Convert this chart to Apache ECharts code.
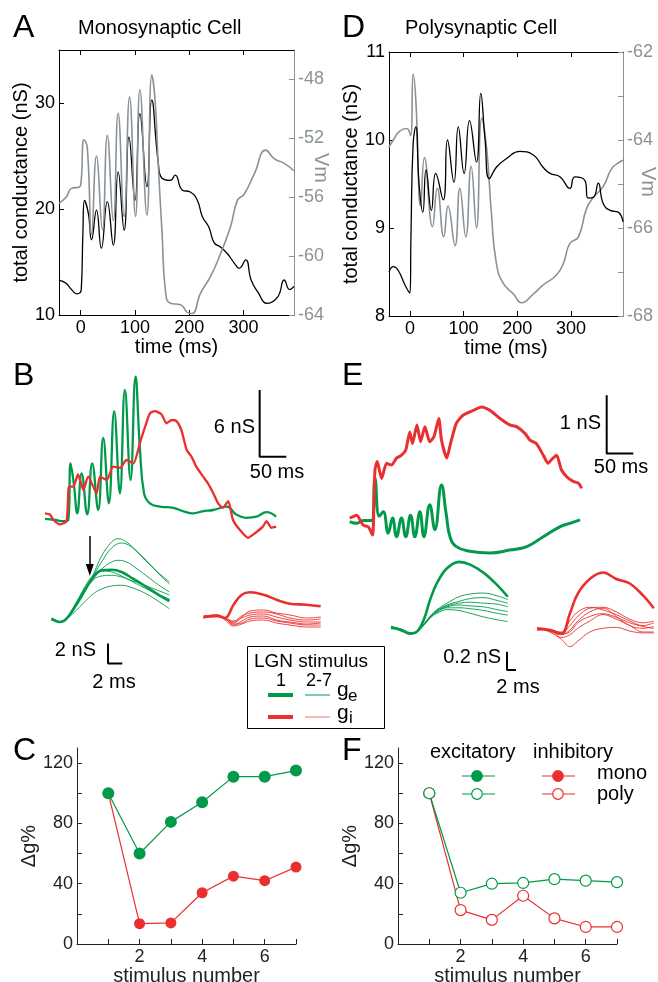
<!DOCTYPE html>
<html>
<head>
<meta charset="utf-8">
<script src="https://cdn.jsdelivr.net/npm/echarts@6/dist/echarts.min.js"></script>
<style>
  html, body { margin: 0; padding: 0; background: #fff; }
  #chart { width: 658px; height: 982px; }
</style>
</head>
<body>
<div id="chart"></div>
<script>
// ---- data ----
// A: monosynaptic cell, [time ms, value]
var aConductance = [[-40,13.3],[-27,13.0],[-17,12.4],[-7,12.0],[1,12.4],[4,17.7],[7,20.8],[14,19.6],[20,17.1],[29,19.9],[38,16.3],[49,20.7],[60,16.6],[69,23.5],[80,18.0],[89,26.8],[100,20.8],[109,29.0],[122,22.1],[131,30.3],[143,24.3],[150,22.9],[165,22.7],[174,23.2],[187,21.8],[202,21.6],[215,20.8],[224,19.3],[236,18.3],[246,16.8],[258,16.4],[270,15.8],[283,14.9],[292,14.4],[304,15.2],[314,13.3],[326,12.2],[344,11.1],[363,11.7],[375,13.3],[385,12.4],[393,12.7]];
var aVm = [[-40,-56.4],[-27,-56.0],[-17,-55.4],[-2,-55.3],[1,-54.8],[6,-52.1],[12,-52.6],[20,-58.5],[29,-53.2],[40,-58.2],[49,-51.8],[60,-57.6],[69,-50.3],[80,-57.3],[90,-49.2],[101,-57.3],[109,-48.7],[122,-57.2],[131,-47.7],[137,-49.4],[143,-53.9],[150,-58.5],[156,-62.3],[165,-63.2],[184,-63.3],[196,-63.8],[205,-63.9],[221,-62.5],[239,-61.4],[258,-59.8],[276,-58.0],[289,-56.2],[301,-55.8],[320,-54.4],[341,-52.8],[357,-53.4],[375,-53.7],[393,-54.2]];

// D: polysynaptic cell
var dConductance = [[-39,8.50],[-31,8.56],[-22,8.52],[-9,8.35],[0,8.26],[2,8.94],[6,9.96],[11,10.15],[17,9.5],[24,9.18],[30,9.66],[40,9.2],[48,9.62],[62,9.32],[70,10.0],[82,9.52],[90,10.15],[101,9.62],[111,10.22],[124,9.75],[132,10.53],[140,10.0],[148,9.56],[161,9.69],[180,9.79],[205,9.87],[230,9.83],[248,9.69],[261,9.62],[280,9.58],[298,9.45],[307,9.58],[326,9.54],[332,9.34],[342,9.35],[351,9.51],[360,9.28],[373,9.2],[388,9.18],[397,9.07]];
var dVm = [[-39,-64.16],[-31,-64.0],[-19,-63.8],[-6,-63.74],[1,-63.9],[6,-62.5],[11,-63.1],[20,-65.5],[27,-64.4],[42,-65.97],[51,-65.1],[63,-66.2],[71,-65.5],[84,-66.4],[93,-65.1],[104,-66.2],[114,-64.6],[124,-66.0],[134,-63.5],[143,-64.2],[152,-65.7],[161,-66.8],[174,-67.26],[193,-67.5],[208,-67.7],[230,-67.5],[248,-67.3],[273,-67.07],[286,-66.8],[298,-66.35],[314,-66.2],[329,-65.56],[342,-65.3],[360,-65.06],[376,-64.65],[391,-64.5],[397,-64.46]];

// B: monosynaptic ge / gi (nS above baseline)
var bGe = [[-43,-0.1],[-24,-0.2],[-9,-0.3],[0.6,-0.2],[5,4.9],[11,3.1],[17.6,0.4],[25.7,4.0],[36.3,0.3],[45.6,4.9],[56.9,0.7],[66.3,7.2],[76.9,1.3],[86.9,9.6],[97.6,2.2],[107,11.5],[117.6,3.4],[127,12.7],[135,6.4],[143,2.2],[154,1.3],[173,1.0],[198,0.9],[216,0.6],[235,0.4],[254,0.6],[273,0.7],[298,1.0],[316,0.3],[335,0.0],[354,0.1],[373,0.5],[391,0.1]];
var bGi = [[-43,0.4],[-34,0.3],[-27,-0.2],[-15,-0.6],[-2.5,-0.3],[2,2.8],[10,2.8],[19,3.9],[29,2.5],[38,3.7],[54,2.2],[60,3.7],[73,3.4],[85,4.6],[98,4.5],[110,5.2],[123,4.9],[135,6.7],[145,8.2],[154,9.4],[163,9.6],[176,9.3],[185,8.5],[195,8.8],[204,8.7],[213,7.9],[223,6.1],[232,5.5],[241,4.6],[254,3.7],[263,3.1],[273,2.2],[282,1.3],[291,0.9],[301,1.5],[310,-0.2],[323,-1.1],[338,-1.8],[351,-1.4],[366,-0.8],[373,-0.3],[382,-0.9],[391,-0.8]];

// E: polysynaptic ge / gi
var eGe = [[-44,0],[-31,-0.03],[-19,0.02],[-3,0.02],[3.2,0.74],[11.3,0.09],[18.8,0.17],[28.1,-0.2],[36.2,0.06],[43.7,-0.26],[53,0.06],[61,-0.26],[70,0.11],[78,-0.26],[87.5,0.17],[95,-0.26],[106,0.29],[115.6,-0.14],[128,0.63],[137,0.12],[144,-0.26],[156,-0.43],[181,-0.51],[219,-0.54],[256,-0.49],[288,-0.43],[319,-0.26],[350,-0.09],[369,-0.03],[388,0.03]];
var eGi = [[-44,0.06],[-31,0.11],[-19,-0.06],[-9.4,-0.09],[-1.3,-0.23],[3.2,0.89],[7.5,1.03],[15.6,0.74],[25,1.0],[34,0.97],[43.7,1.09],[53,1.14],[61,1.23],[68.6,1.54],[73.6,1.34],[82,1.66],[88.8,1.37],[96.9,1.63],[106,1.37],[114,1.46],[123,1.77],[128,1.4],[138,1.09],[145,1.34],[156,1.69],[169,1.83],[188,1.91],[203,1.97],[219,1.91],[238,1.77],[256,1.66],[269,1.63],[285,1.51],[294,1.4],[306,1.34],[319,1.14],[328,1.0],[334,1.06],[344,1.14],[353,0.89],[363,0.77],[375,0.69],[385,0.66],[391,0.57]];

// B insets (ms from window start, nS): stimulus 1 and stimuli 2-7
var bInsetGe1 = [[0,0.33],[1.16,0],[2.1,0.33],[3.5,1.83],[4.9,3.5],[6.05,4.67],[7,5.17],[8.4,5.23],[9.8,5.0],[11.4,4.33],[13.3,3.5],[15.1,2.67],[16.5,2.1]];
var bInsetGeRest = [
  [[0,0.2],[1.2,0],[2.1,0.3],[3.5,1.6],[4.9,3.3],[6,5.0],[7,6.6],[8.4,8.0],[9.3,8.33],[10.5,8.0],[12,7.0],[13.5,5.9],[15,4.9],[16.5,4.0]],
  [[0,0.2],[1.2,0],[2.1,0.3],[3.5,1.7],[4.9,3.4],[6,4.8],[7,6.0],[8.4,7.4],[9.8,7.9],[11,7.6],[12.5,6.7],[14,5.6],[15.3,4.6],[16.5,3.8]],
  [[0,0.3],[1.2,0],[2.1,0.3],[3.5,1.8],[4.9,3.4],[6,4.5],[7,5.3],[8.4,6.0],[9.3,6.17],[10.5,6.0],[12,5.3],[13.5,4.5],[15,3.7],[16.5,3.0]],
  [[0,0.3],[1.2,0],[2.1,0.4],[3.5,2.0],[4.9,3.8],[6,4.8],[7,5.1],[8.4,5.0],[9.8,4.6],[11.4,4.0],[13.3,3.3],[15.1,2.7],[16.5,2.3]],
  [[0,0.3],[1.2,0],[2.1,0.4],[3.5,1.9],[4.9,3.4],[6,4.3],[7,4.6],[8.4,4.67],[9.8,4.5],[11.4,4.1],[13.3,3.6],[15.1,3.1],[16.5,2.7]],
  [[0,0.3],[1.2,0],[2.1,0.3],[3.5,1.2],[4.9,2.2],[6,2.9],[7,3.3],[8.4,3.6],[9.8,3.67],[11.4,3.4],[13.3,2.8],[15.1,2.0],[16.5,1.33]]
];
var bInsetGi1 = [[0,0.1],[1.86,0.23],[3.0,0],[4.2,1.33],[5.35,2.33],[6.5,2.57],[8.4,2.33],[10.2,1.83],[12.1,1.43],[14.4,1.33],[16.4,1.17]];
var bInsetGiRest = [
  [[0,0.1],[1.86,0.3],[3,0],[4.2,-0.5],[5.35,0.1],[6.5,0.7],[8.4,0.8],[10.2,0.5],[12.1,0.3],[14.4,0.0],[16.4,0.1]],
  [[0,0.2],[1.86,0.2],[3,0],[4.2,-0.3],[5.35,0.2],[6.5,0.5],[8.4,0.6],[10.2,0.4],[12.1,0.0],[14.4,-0.2],[16.4,-0.1]],
  [[0,0],[1.86,0.2],[3,0],[4.2,-0.7],[5.35,-0.3],[6.5,0.1],[8.4,0.2],[10.2,-0.2],[12.1,-0.4],[14.4,-0.6],[16.4,-0.5]],
  [[0,0.1],[1.86,0.3],[3,-0.2],[4.2,-0.8],[5.35,-0.6],[6.5,-0.3],[8.4,-0.2],[10.2,-0.5],[12.1,-0.7],[14.4,-0.9],[16.4,-0.9]],
  [[0,0.2],[1.86,0.3],[3,0],[4.2,-0.4],[5.35,0.0],[6.5,0.3],[8.4,0.4],[10.2,0.1],[12.1,-0.2],[14.4,-0.4],[16.4,-0.4]],
  [[0,0],[1.86,0.1],[3,-0.1],[4.2,-0.6],[5.35,-0.5],[6.5,-0.1],[8.4,0.0],[10.2,-0.3],[12.1,-0.5],[14.4,-0.7],[16.4,-0.7]]
];

// E insets
var eInsetGe1 = [[0,0.05],[1.17,0.02],[2.4,-0.02],[3.25,0],[4.1,0.13],[4.9,0.35],[5.75,0.53],[7,0.69],[8.5,0.76],[9.9,0.73],[11.6,0.64],[13.25,0.51],[14.6,0.38]];
var eInsetGeRest = [
  [[0,0.05],[1.17,0.03],[2.4,-0.02],[3.25,0],[4.1,0.08],[4.9,0.17],[5.75,0.24],[7,0.31],[8.5,0.38],[9.9,0.41],[11.6,0.42],[13.25,0.39],[14.6,0.35]],
  [[0,0.04],[1.17,0.03],[2.4,-0.02],[3.25,0],[4.1,0.08],[4.9,0.16],[5.75,0.23],[7,0.29],[8.5,0.33],[9.9,0.36],[11.6,0.37],[13.25,0.34],[14.6,0.31]],
  [[0,0.06],[1.17,0.02],[2.4,-0.02],[3.25,0],[4.1,0.08],[4.9,0.16],[5.75,0.23],[7,0.28],[8.5,0.31],[9.9,0.32],[11.6,0.31],[13.25,0.3],[14.6,0.27]],
  [[0,0.03],[1.17,0.03],[2.4,-0.01],[3.25,0],[4.1,0.08],[4.9,0.16],[5.75,0.22],[7,0.27],[8.5,0.29],[9.9,0.28],[11.6,0.27],[13.25,0.24],[14.6,0.22]],
  [[0,0.05],[1.17,0.01],[2.4,-0.02],[3.25,0],[4.1,0.07],[4.9,0.15],[5.75,0.21],[7,0.26],[8.5,0.26],[9.9,0.25],[11.6,0.23],[13.25,0.2],[14.6,0.18]],
  [[0,0.04],[1.17,0.02],[2.4,-0.03],[3.25,0],[4.1,0.07],[4.9,0.15],[5.75,0.2],[7,0.24],[8.5,0.23],[9.9,0.2],[11.6,0.16],[13.25,0.13],[14.6,0.11]]
];
var eInsetGi1 = [[0,0.02],[1.58,0],[3.04,-0.04],[4.1,0.18],[5.1,0.4],[6.6,0.56],[8.25,0.63],[9.9,0.56],[11.6,0.51],[13.25,0.38],[14.6,0.24]];
var eInsetGiRest = [
  [[0,0.02],[1.58,0.0],[3.04,-0.02],[4.1,0.1],[5.1,0.2],[6.6,0.25],[8.25,0.22],[9.9,0.17],[11.6,0.1],[13.25,0.05],[14.6,0.08]],
  [[0,0.0],[1.58,0.01],[3.04,-0.03],[4.1,0.05],[5.1,0.15],[6.6,0.24],[8.25,0.25],[9.9,0.2],[11.6,0.12],[13.25,0.08],[14.6,0.1]],
  [[0,0.02],[1.58,-0.01],[3.04,-0.05],[4.1,0.0],[5.1,0.1],[6.6,0.2],[8.25,0.24],[9.9,0.15],[11.6,0.05],[13.25,0.02],[14.6,0.04]],
  [[0,0.0],[1.58,0.0],[3.04,-0.08],[4.1,-0.05],[5.1,0.02],[6.6,0.1],[8.25,0.17],[9.9,0.12],[11.6,0.05],[13.25,-0.02],[14.6,-0.02]],
  [[0,0.02],[1.58,-0.02],[3.04,-0.1],[4.1,-0.18],[5.1,-0.12],[6.6,-0.02],[8.25,0.02],[9.9,0.03],[11.6,-0.01],[13.25,-0.03],[14.6,-0.03]],
  [[0,0.01],[1.58,0.0],[3.04,-0.04],[4.1,-0.02],[5.1,0.08],[6.6,0.15],[8.25,0.18],[9.9,0.14],[11.6,0.08],[13.25,0.04],[14.6,0.02]]
];

// C / F: relative conductance change per stimulus
var stimNumber = [1, 2, 3, 4, 5, 6, 7];
var monoExc = [100, 60, 81, 94, 111, 111, 115];
var monoInh = [100, 13.5, 14, 34, 45, 42, 51];
var polyExc = [100, 34, 40, 40.5, 43, 42, 41];
var polyInh = [100, 22.5, 16, 32, 17, 11.3, 11.3];

// tick labels
var aTimeTicks = [0, 100, 200, 300];
var aGTicks = [10, 20, 30];
var aVmTicks = [-64, -60, -56, -52, -48];
var dGTicks = [8, 9, 10, 11];
var dVmTicks = [-68, -67, -66, -65, -64, -63, -62];
var dVmLabels = [-68, -66, -64, -62];
var stimTicks = [1, 2, 3, 4, 5, 6, 7];
var stimLabels = [2, 4, 6];
var pctTicks = [0, 20, 40, 60, 80, 100, 120];
var pctLabels = [0, 40, 80, 120];

// ---- chart ----
var GREEN = "#009a4a";
var RED = "#ea2f2f";
var GREY = "#8b9297";
var FONT = "Liberation Sans, Arial, sans-serif";

var chart = echarts.init(document.getElementById("chart"), null, { renderer: "canvas" });

function pairs(xs, ys) {
  return xs.map(function (x, i) { return [x, ys[i]]; });
}

//坐标轴 (visible)
function valAxis(gi, pos, min, max, ticks, labels, color, extra) {
  var ax = {
    gridIndex: gi, type: "value", position: pos, min: min, max: max,
    axisLine: { show: true, onZero: false, lineStyle: { color: color, width: 1 } },
    axisTick: { show: true, inside: true, length: 5, customValues: ticks, lineStyle: { color: color } },
    axisLabel: labels ? { show: true, customValues: labels, color: color, fontSize: 18, fontFamily: FONT, margin: 4 } : { show: false },
    splitLine: { show: false },
    nameTextStyle: { color: color, fontSize: 20, fontFamily: FONT }
  };
  for (var k in extra) ax[k] = extra[k];
  return ax;
}
function hiddenAxis(gi, min, max) {
  return { gridIndex: gi, type: "value", min: min, max: max, show: false, splitLine: { show: false } };
}

var grids = [
  { left: 59, top: 50, width: 235, height: 265 },     // 0 A
  { left: 389, top: 52, width: 234, height: 264 },    // 1 D
  { left: 45, top: 370, width: 245, height: 170 },    // 2 B
  { left: 345, top: 390, width: 295, height: 170 },   // 3 E
  { left: 48, top: 532, width: 125, height: 135 },    // 4 B inset ge
  { left: 200, top: 583, width: 125, height: 50 },    // 5 B inset gi
  { left: 387, top: 549, width: 128, height: 124 },   // 6 E inset ge
  { left: 533, top: 557, width: 124, height: 96 },    // 7 E inset gi
  { left: 77, top: 748, width: 219, height: 196 },    // 8 C
  { left: 398, top: 748, width: 219, height: 196 }    // 9 F
];
grids.forEach(function (g) { g.outerBoundsMode = "none"; g.containLabel = false; });

var xAxes = [
  valAxis(0, "bottom", -40, 393, aTimeTicks, aTimeTicks, "#000", { name: "time (ms)", nameLocation: "middle", nameGap: 21 }),
  valAxis(0, "top", -40, 393, aTimeTicks, null, "#000", {}),
  valAxis(1, "bottom", -39, 397, aTimeTicks, aTimeTicks, "#000", { name: "time (ms)", nameLocation: "middle", nameGap: 21 }),
  valAxis(1, "top", -39, 397, aTimeTicks, null, "#000", {}),
  hiddenAxis(2, -43, 417),
  hiddenAxis(3, -53, 500.5),
  hiddenAxis(4, -0.5, 17),
  hiddenAxis(5, -0.5, 17),
  hiddenAxis(6, -0.5, 15.5),
  hiddenAxis(7, -0.5, 15),
  valAxis(8, "bottom", 0, 7, stimTicks, stimLabels, "#222", { name: "stimulus number", nameLocation: "middle", nameGap: 17 }),
  valAxis(9, "bottom", 0, 7, stimTicks, stimLabels, "#222", { name: "stimulus number", nameLocation: "middle", nameGap: 17 })
];
var yAxes = [
  valAxis(0, "left", 10, 35, aGTicks, aGTicks, "#000", { name: "total conductance (nS)", nameLocation: "middle", nameGap: 27 }),
  valAxis(0, "right", -64, -46, aVmTicks, aVmTicks, GREY, {}),
  valAxis(1, "left", 8, 11, dGTicks, dGTicks, "#000", { name: "total conductance (nS)", nameLocation: "middle", nameGap: 27 }),
  valAxis(1, "right", -68, -62, dVmTicks, dVmLabels, GREY, {}),
  hiddenAxis(2, -2, 13.3),
  hiddenAxis(3, -0.66, 2.26),
  hiddenAxis(4, -4.5, 9),
  hiddenAxis(5, -1.5, 3.5),
  hiddenAxis(6, -0.45, 0.9),
  hiddenAxis(7, -0.25, 0.8),
  valAxis(8, "left", 0, 130, pctTicks, pctLabels, "#222", { name: "Δg%", nameLocation: "middle", nameGap: 36 }),
  valAxis(9, "left", 0, 130, pctTicks, pctLabels, "#222", { name: "Δg%", nameLocation: "middle", nameGap: 36 })
];

function trace(xi, yi, data, color, width, smooth) {
  return {
    type: "line", xAxisIndex: xi, yAxisIndex: yi, data: data,
    showSymbol: false, symbol: "none", smooth: smooth || 0,
    lineStyle: { color: color, width: width }, silent: true
  };
}
//比例尺
function scaleBar(xi, x0, y0, dx, dy) {
  return {
    type: "line", xAxisIndex: xi, yAxisIndex: xi, symbol: "none",
    data: [[x0, y0 + dy], [x0, y0], [x0 + dx, y0]],
    lineStyle: { color: "#000", width: 2 }, silent: true
  };
}
function markers(xi, data, color, size, filled) {
  return {
    type: "line", xAxisIndex: xi, yAxisIndex: xi, data: data,
    symbol: "circle", symbolSize: size, showSymbol: true,
    lineStyle: { color: color, width: 1.2 },
    itemStyle: { color: filled ? color : "#fff", borderColor: color, borderWidth: filled ? 0 : 1.2 },
    silent: true
  };
}

var series = [
  trace(0, 0, aConductance, "#000", 1.3, 0.5),
  trace(0, 1, aVm, GREY, 1.6, 0.5),
  trace(2, 3, dVm, GREY, 1.6, 0.5),
  trace(2, 2, dConductance, "#000", 1.3, 0.5),
  trace(4, 4, bGe, GREEN, 2.3, 0.45),
  trace(4, 4, bGi, RED, 2.3, 0.2),
  scaleBar(4, 360, 5.5, 50, 6),
  trace(5, 5, eGe, GREEN, 3, 0.45),
  trace(5, 5, eGi, RED, 3, 0.2),
  scaleBar(5, 438, 1.17, 50, 1)
];
bInsetGeRest.forEach(function (d) { series.push(trace(6, 6, d, GREEN, 0.9, 0.4)); });
var bThick = trace(6, 6, bInsetGe1, GREEN, 2.6, 0.4);
//箭头
bThick.markLine = {
  silent: true, symbol: ["none", "triangle"], symbolSize: [8, 12], symbolRotate: 180,
  label: { show: false }, lineStyle: { color: "#000", width: 1.5, type: "solid" },
  itemStyle: { color: "#000" },
  data: [[{ coord: [5.35, 8.6] }, { coord: [5.35, 5.2] }]]
};
series.push(bThick);
series.push(scaleBar(6, 7.9, -4.16, 2, 2));
bInsetGiRest.forEach(function (d) { series.push(trace(7, 7, d, RED, 0.9, 0.4)); });
series.push(trace(7, 7, bInsetGi1, RED, 2.6, 0.4));
eInsetGeRest.forEach(function (d) { series.push(trace(8, 8, d, GREEN, 0.9, 0.4)); });
series.push(trace(8, 8, eInsetGe1, GREEN, 2.6, 0.4));
series.push(scaleBar(8, 14.5, -0.418, 2, 0.2));
eInsetGiRest.forEach(function (d) { series.push(trace(9, 9, d, RED, 0.9, 0.4)); });
series.push(trace(9, 9, eInsetGi1, RED, 2.6, 0.4));
series.push(markers(10, pairs(stimNumber, monoInh), RED, 11, true));
series.push(markers(10, pairs(stimNumber, monoExc), GREEN, 12, true));
series.push(markers(11, pairs(stimNumber, polyInh), RED, 11, false));
series.push(markers(11, pairs(stimNumber, polyExc), GREEN, 11, false));

function txt(x, y, s, size, align, color, rot) {
  return {
    type: "text", x: x, y: y, rotation: rot || 0, silent: true,
    style: { text: s, fontSize: size, fontFamily: FONT, fill: color || "#000",
      align: align || "left", textAlign: align || "left", verticalAlign: "middle", textVerticalAlign: "middle" }
  };
}
function ln(x1, y1, x2, y2, color, w) {
  return { type: "line", silent: true, shape: { x1: x1, y1: y1, x2: x2, y2: y2 }, style: { stroke: color, lineWidth: w } };
}
function dot(cx, cy, color, filled) {
  return { type: "circle", silent: true, z: 10, shape: { cx: cx, cy: cy, r: 5.3 },
    style: { fill: filled ? color : "#fff", stroke: color, lineWidth: 1.2 } };
}

var graphic = [
  txt(13, 28, "A", 32), txt(78, 28, "Monosynaptic Cell", 20),
  txt(342, 28, "D", 32), txt(405, 28, "Polysynaptic Cell", 20),
  txt(13, 376, "B", 32), txt(342, 376, "E", 32),
  txt(13, 751, "C", 32), txt(342, 751, "F", 32),
  // Vm axis titles (read top to bottom)
  txt(321, 168, "Vm", 20, "center", GREY, -Math.PI / 2),
  txt(648, 182, "Vm", 20, "center", GREY, -Math.PI / 2),
  // scale bar labels
  txt(255, 427, "6 nS", 20, "right"), txt(277, 472, "50 ms", 20, "center"),
  txt(601, 423, "1 nS", 20, "right"), txt(621, 467, "50 ms", 20, "center"),
  txt(96, 650, "2 nS", 20, "right"), txt(114, 682, "2 ms", 20, "center"),
  txt(501, 657, "0.2 nS", 20, "right"), txt(518, 687, "2 ms", 20, "center"),
  // LGN stimulus legend
  { type: "rect", silent: true, shape: { x: 247.5, y: 646.5, width: 137, height: 82 }, style: { fill: "none", stroke: "#000", lineWidth: 1 } },
  txt(254, 662, "LGN stimulus", 19),
  txt(281, 681, "1", 18, "center"), txt(319, 681, "2-7", 18, "center"),
  ln(268, 695, 293, 695, GREEN, 4), ln(305, 695, 330, 695, GREEN, 1),
  ln(268, 717, 293, 717, RED, 4), ln(305, 717, 330, 717, "#f07878", 1),
  txt(337, 690, "g", 21), txt(348, 696, "e", 17),
  txt(337, 713, "g", 21), txt(349, 718, "i", 17),
  // F legend
  txt(430, 752, "excitatory", 20), txt(533, 752, "inhibitory", 20),
  ln(462, 776, 495, 776, GREEN, 1.2), dot(477, 776, GREEN, true),
  ln(462, 794, 495, 794, GREEN, 1.2), dot(477, 794, GREEN, false),
  ln(542, 776, 575, 776, RED, 1.2), dot(558, 776, RED, true),
  ln(542, 794, 575, 794, RED, 1.2), dot(558, 794, RED, false),
  txt(597, 773, "mono", 20), txt(597, 794, "poly", 20)
];

chart.setOption({
  animation: false,
  backgroundColor: "#fff",
  textStyle: { fontFamily: FONT },
  grid: grids,
  xAxis: xAxes,
  yAxis: yAxes,
  series: series,
  graphic: graphic
});
</script>
</body>
</html>
